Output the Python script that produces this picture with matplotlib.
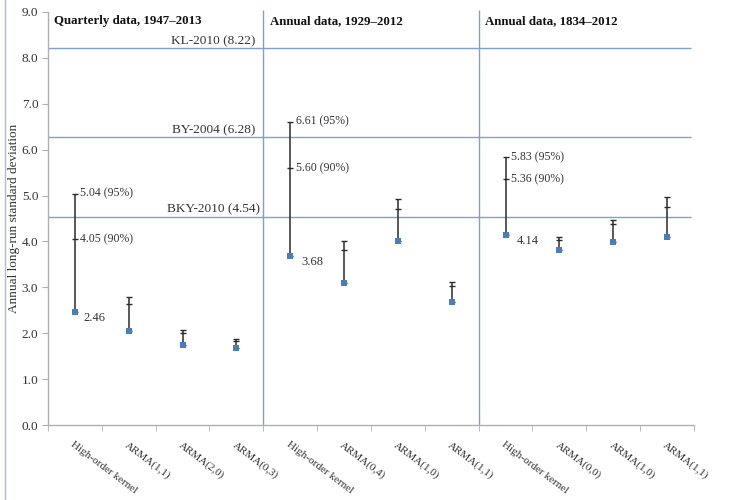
import numpy as np
import matplotlib
matplotlib.use("Agg")
import matplotlib.pyplot as plt
from matplotlib.lines import Line2D

plt.rcParams['font.family'] = ['Liberation Serif', 'DejaVu Serif']

# estimates with upper 90% and 95% bounds, three samples of four models each
models = ['High-order kernel', 'ARMA(1,1)', 'ARMA(2,0)', 'ARMA(0,3)',
          'High-order kernel', 'ARMA(0,4)', 'ARMA(1,0)', 'ARMA(1,1)',
          'High-order kernel', 'ARMA(0,0)', 'ARMA(1,0)', 'ARMA(1,1)']
estimate = [2.46, 2.05, 1.75, 1.68,
            3.68, 3.10, 4.00, 2.68,
            4.14, 3.81, 3.98, 4.10]
upper90 = [4.05, 2.63, 2.01, 1.82,
           5.60, 3.81, 4.70, 3.03,
           5.36, 4.03, 4.37, 4.76]
upper95 = [5.04, 2.78, 2.08, 1.87,
           6.61, 4.00, 4.92, 3.12,
           5.83, 4.09, 4.47, 4.97]

panel_titles = ['Quarterly data, 1947\u20132013', 'Annual data, 1929\u20132012',
                'Annual data, 1834\u20132012']

ref_names = ['KL-2010', 'BY-2004', 'BKY-2010']
ref_values = [8.22, 6.28, 4.54]

# the kernel estimates get value labels
kernel_idx = [0, 4, 8]

blue = '#4a7ebb'
refblue = '#7f9fcf'
axgray = '#b0b0b0'

fig = plt.figure(figsize=(7.35, 5.0), dpi=100)
ax = fig.add_axes([0.0653, 0.15, 0.8789, 0.826])

x = np.arange(len(models))
est = np.array(estimate)
u90 = np.array(upper90)
u95 = np.array(upper95)

# reference lines and panel separators
ax.hlines(ref_values, -0.5, 11.45, color=refblue, lw=1.0, zorder=1)
for name, v in zip(ref_names, ref_values):
    ax.text(2.57, v + 0.02, f'{name} ({v:.2f})', ha='center', va='bottom',
            fontsize=9.5, color='#333333')
for sep in [3.5, 7.5]:
    ax.vlines(sep, 0, 9.05, color=refblue, lw=1.0, zorder=1, clip_on=False)

# error bars from the estimate up to the 95% bound, tick at 90%
ax.errorbar(x, est, yerr=[np.zeros_like(est), u95 - est], fmt='none',
            ecolor='#2b2b2b', elinewidth=1.1, capsize=2.4, capthick=1.0, zorder=2)
ax.plot(x, u90, linestyle='none', marker='_', markersize=5, markeredgewidth=1.0,
        color='#2b2b2b', zorder=3)
ax.plot(x, est, linestyle='none', marker='s', markersize=3.8, markeredgewidth=0,
        color=blue, zorder=4)

for i in kernel_idx:
    ax.annotate(f'{u95[i]:.2f} (95%)', (x[i], u95[i]), xytext=(4, 0),
                textcoords='offset points', va='center', fontsize=8.5, color='#333333')
    ax.annotate(f'{u90[i]:.2f} (90%)', (x[i], u90[i]), xytext=(4, 0),
                textcoords='offset points', va='center', fontsize=8.5, color='#333333')
    ax.annotate(f'{est[i]:.2f}', (x[i], est[i]), xytext=(6 if i == 0 else 8, -4),
                textcoords='offset points', va='center', fontsize=9, color='#333333')

for k, title in enumerate(panel_titles):
    ax.text(k * 4 - 0.38, 8.8, title, ha='left', va='center', fontsize=9.3,
            fontweight='bold', color='#111111')

ax.set_xlim(-0.5, 11.5)
ax.set_ylim(0, 9)
ax.set_yticks(np.arange(0, 9.5, 1.0))
ax.set_yticklabels([f'{v:.1f}' for v in np.arange(0, 9.5, 1.0)], fontsize=9.5,
                   color='#333333')
ax.set_xticks(x)
ax.set_xticklabels(models, rotation=-37, ha='left', va='top',
                   rotation_mode='anchor', fontsize=8, color='#333333')
ax.set_xticks(np.arange(-0.5, 12, 1.0), minor=True)
ax.tick_params(axis='x', which='major', length=0, pad=11)
ax.tick_params(axis='x', which='minor', length=4, color=axgray)
ax.tick_params(axis='y', length=4, color=axgray, pad=3)

for s in ['top', 'right']:
    ax.spines[s].set_visible(False)
for s in ['left', 'bottom']:
    ax.spines[s].set_color(axgray)
    ax.spines[s].set_linewidth(1.0)

ax.set_ylabel('Annual long-run standard deviation', fontsize=9.5, color='#333333')
ax.yaxis.set_label_coords(-0.043, 0.5)

fig.add_artist(Line2D([0.007, 0.007], [0, 1], color='#a8bcd8', lw=1.0))

fig.savefig('out.png', dpi=100)
